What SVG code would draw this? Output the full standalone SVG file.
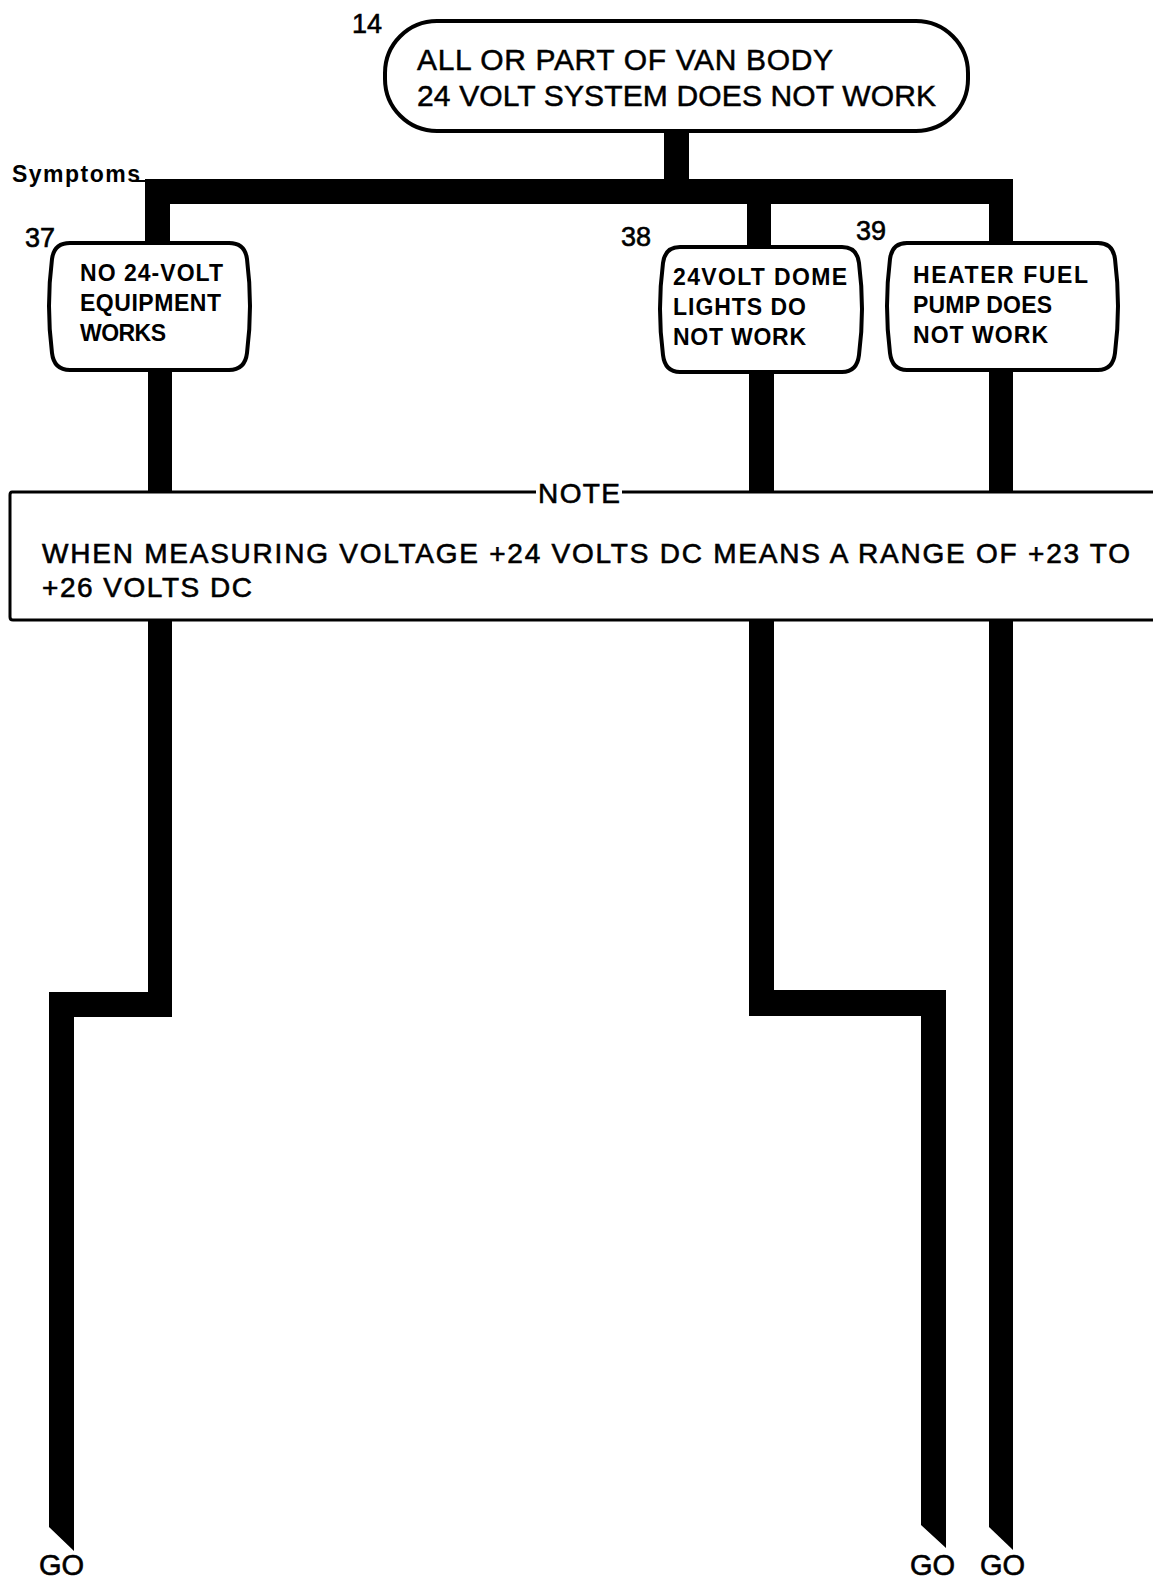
<svg xmlns="http://www.w3.org/2000/svg" width="1153" height="1578" viewBox="0 0 1153 1578">
<style>
.box{fill:#fff;stroke:#000;stroke-width:4}
.big{font-family:"Liberation Sans",Arial,sans-serif;font-size:30px;fill:#000;stroke:#000;stroke-width:0.5}
.nt{font-family:"Liberation Sans",Arial,sans-serif;font-size:23px;font-weight:bold;fill:#000}
.num{font-family:"Liberation Sans",Arial,sans-serif;font-size:27px;fill:#000;stroke:#000;stroke-width:0.6}
.note{font-family:"Liberation Sans",Arial,sans-serif;font-size:28px;fill:#000;stroke:#000;stroke-width:0.6}
.go{font-family:"Liberation Sans",Arial,sans-serif;font-size:29px;fill:#000;stroke:#000;stroke-width:0.6}
.conn{fill:#000}
</style>
<rect width="1153" height="1578" fill="#fff"/>
<g id="connectors">
<rect class="conn" x="664" y="128" width="25" height="54"/>
<rect class="conn" x="145" y="179" width="868" height="25"/>
<rect class="conn" x="145" y="179" width="25" height="66"/>
<rect class="conn" x="747" y="200" width="24" height="48"/>
<rect class="conn" x="989" y="179" width="24" height="66"/>
<polygon class="conn" points="148,365 172,365 172,1017 74,1017 74,1551 49,1527 49,992 148,992"/>
<polygon class="conn" points="749,365 774,365 774,990 946,990 946,1548 921,1525 921,1016 749,1016"/>
<polygon class="conn" points="989,365 1013,365 1013,1550 989,1527"/>
</g>
<g id="node14">
<rect class="box" x="385" y="21" width="583" height="110" rx="52" ry="52"/>
<text class="num" x="352" y="33">14</text>
<text class="big" x="417" y="70" textLength="416">ALL OR PART OF VAN BODY</text>
<text class="big" x="417" y="106" textLength="519">24 VOLT SYSTEM DOES NOT WORK</text>
</g>
<g id="symptoms">
<text class="nt" x="12" y="182" font-size="25" textLength="128">Symptoms</text>
<line x1="132" y1="181" x2="146" y2="181" stroke="#000" stroke-width="2"/>
</g>
<g id="node37">
<path class="box" d="M70,243 H229 Q245,243 247,259 Q253,306 247,353 Q245,370 229,370 H70 Q54,370 52,353 Q46,306 52,259 Q54,243 70,243 Z"/>
<text class="num" x="25" y="247">37</text>
<text class="nt" x="80" y="281" textLength="143">NO 24-VOLT</text>
<text class="nt" x="80" y="311" textLength="141">EQUIPMENT</text>
<text class="nt" x="80" y="341" textLength="86">WORKS</text>
</g>
<g id="node38">
<path class="box" d="M680,247 H842 Q857,247 859,263 Q865,309 859,355 Q857,372 842,372 H680 Q665,372 663,355 Q657,309 663,263 Q665,247 680,247 Z"/>
<text class="num" x="621" y="246">38</text>
<text class="nt" x="673" y="285" textLength="174">24VOLT DOME</text>
<text class="nt" x="673" y="315" textLength="133">LIGHTS DO</text>
<text class="nt" x="673" y="345" textLength="133">NOT WORK</text>
</g>
<g id="node39">
<path class="box" d="M907,243 H1098 Q1113,243 1115,259 Q1121,306 1115,353 Q1113,370 1098,370 H907 Q892,370 890,353 Q884,306 890,259 Q892,243 907,243 Z"/>
<text class="num" x="856" y="240">39</text>
<text class="nt" x="913" y="283" textLength="175">HEATER FUEL</text>
<text class="nt" x="913" y="313" textLength="139">PUMP DOES</text>
<text class="nt" x="913" y="343" textLength="135">NOT WORK</text>
</g>
<g id="note">
<rect x="10" y="492" width="1160" height="128" rx="3" fill="#fff"/>
<path d="M536,492 H12 Q10,492 10,495 V617 Q10,620 13,620 H1160 M622,492 H1160" fill="none" stroke="#000" stroke-width="3"/>
<text class="note" x="579" y="503" text-anchor="middle" textLength="82">NOTE</text>
<text class="note" x="42" y="563" textLength="1088">WHEN MEASURING VOLTAGE +24 VOLTS DC MEANS A RANGE OF +23 TO</text>
<text class="note" x="42" y="597" textLength="210">+26 VOLTS DC</text>
</g>
<g id="go1"><text class="go" x="39" y="1575">GO</text></g>
<g id="go2"><text class="go" x="910" y="1575">GO</text></g>
<g id="go3"><text class="go" x="980" y="1575">GO</text></g>
</svg>
